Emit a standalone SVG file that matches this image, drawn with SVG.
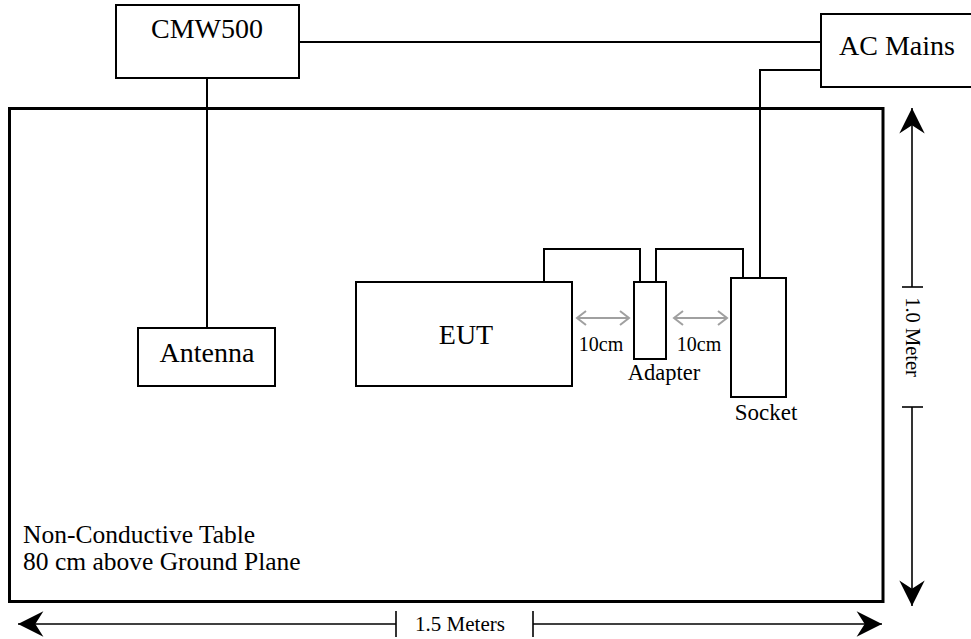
<svg xmlns="http://www.w3.org/2000/svg" width="971" height="639" viewBox="0 0 971 639">
<style>
.box{fill:#fff;stroke:#000;stroke-width:2}
.wire{fill:none;stroke:#000;stroke-width:2}
.dim{fill:none;stroke:#000;stroke-width:1.6}
.gray{fill:none;stroke:#a0a0a0;stroke-width:2}
text{font-family:'Liberation Serif','DejaVu Serif',serif;fill:#000}
</style>
<defs>
<marker id="barb" markerUnits="userSpaceOnUse" markerWidth="30" markerHeight="30" viewBox="-24 -13 26 26" refX="0" refY="0" orient="auto-start-reverse">
<path d="M0,0 L-22,-11 L-15,0 L-22,11 Z" fill="#000"/>
</marker>
<marker id="chev" markerUnits="userSpaceOnUse" markerWidth="16" markerHeight="18" viewBox="-10 -9 12 18" refX="0" refY="0" orient="auto-start-reverse">
<path d="M-9,-7 L0,0 L-9,7" fill="none" stroke="#a0a0a0" stroke-width="2"/>
</marker>
</defs>

<g id="table">
<rect x="9.5" y="108.5" width="873.5" height="493" fill="none" stroke="#000" stroke-width="3"/>
<text font-size="25.5" x="23" y="543">Non-Conductive Table</text>
<text font-size="25.5" x="23" y="570">80 cm above Ground Plane</text>
</g>

<g id="connectors">
<polyline class="wire" points="299,42 821,42"/>
<polyline class="wire" points="207,78 207,328"/>
<polyline class="wire" stroke-width="2.5" points="821,70 760,70 760,278"/>
<polyline class="wire" points="544,282 544,249 640,249 640,282"/>
<polyline class="wire" points="656,282 656,249 743,249 743,278"/>
<line class="gray" x1="577" y1="318" x2="629" y2="318" marker-start="url(#chev)" marker-end="url(#chev)"/>
<line class="gray" x1="674" y1="318" x2="727" y2="318" marker-start="url(#chev)" marker-end="url(#chev)"/>
</g>

<g id="CMW500">
<rect class="box" x="116" y="5" width="183" height="73"/>
<text font-size="28" x="207" y="38" text-anchor="middle">CMW500</text>
</g>

<g id="ACMains">
<rect class="box" x="821" y="14" width="152" height="73"/>
<text font-size="28" x="839" y="55">AC Mains</text>
</g>

<g id="Antenna">
<rect class="box" x="138" y="328" width="137" height="58"/>
<text font-size="28" x="207" y="362" text-anchor="middle">Antenna</text>
</g>

<g id="EUT">
<rect class="box" x="356" y="282" width="216" height="104"/>
<text font-size="28" x="466" y="344" text-anchor="middle">EUT</text>
</g>

<g id="Adapter">
<rect class="box" x="634" y="282" width="32" height="77"/>
<text font-size="22.5" x="664" y="380" text-anchor="middle">Adapter</text>
</g>

<g id="Socket">
<rect class="box" x="731" y="278" width="55" height="119"/>
<text font-size="23" x="766" y="420" text-anchor="middle">Socket</text>
</g>

<g id="labels10cm">
<text font-size="20" x="601" y="351" text-anchor="middle">10cm</text>
<text font-size="20" x="699" y="351" text-anchor="middle">10cm</text>
</g>

<g id="dim-vertical">
<line class="dim" x1="912" y1="287" x2="912" y2="108" marker-end="url(#barb)"/>
<line class="dim" x1="902" y1="287" x2="923" y2="287"/>
<text font-size="20.5" transform="translate(906,337) rotate(90)" text-anchor="middle">1.0 Meter</text>
<line class="dim" x1="902" y1="407" x2="923" y2="407"/>
<line class="dim" x1="912" y1="407" x2="912" y2="606" marker-end="url(#barb)"/>
</g>

<g id="dim-horizontal">
<line class="dim" x1="396" y1="624" x2="18" y2="624" marker-end="url(#barb)"/>
<line class="dim" x1="396" y1="611" x2="396" y2="637"/>
<text font-size="21" x="460" y="631" text-anchor="middle">1.5 Meters</text>
<line class="dim" x1="533" y1="611" x2="533" y2="637"/>
<line class="dim" x1="533" y1="624" x2="882" y2="624" marker-end="url(#barb)"/>
</g>
</svg>
